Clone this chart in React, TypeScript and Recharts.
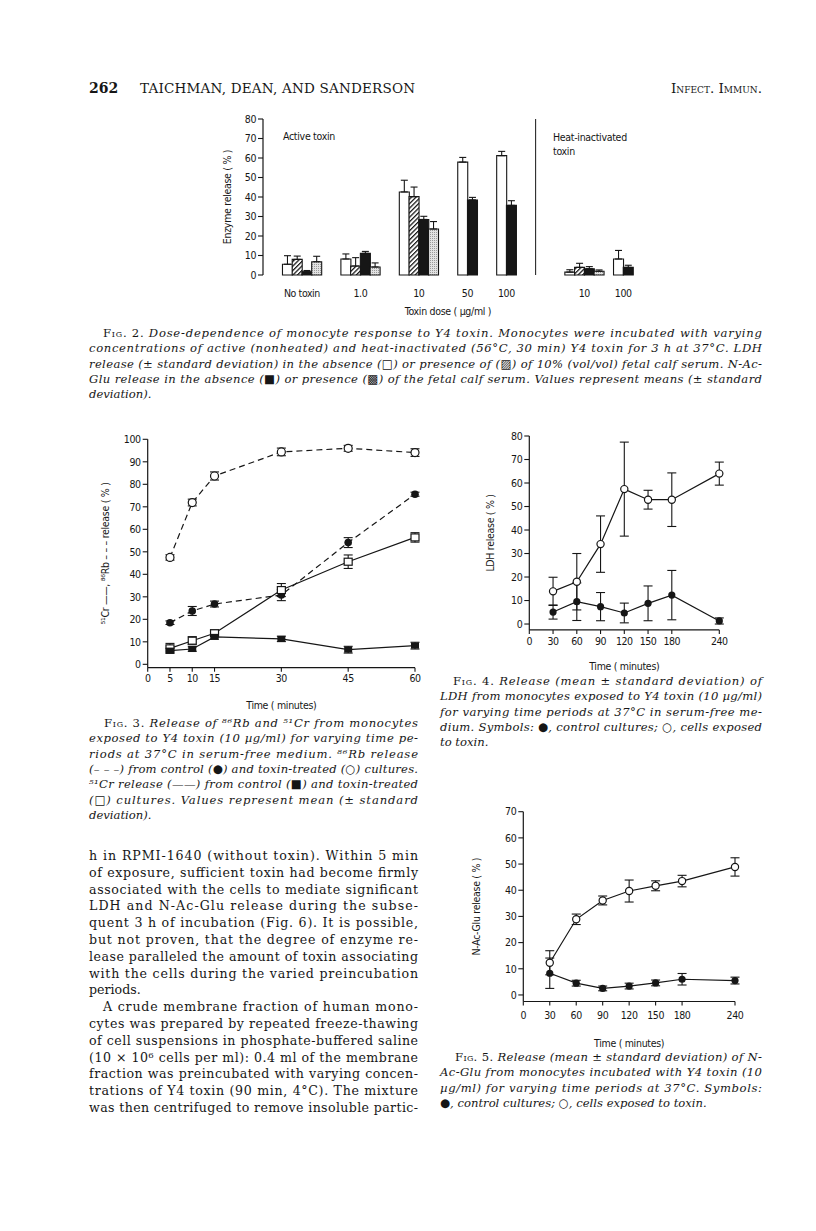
import React from 'react';
import { BarChart, Bar, Cell, ErrorBar, XAxis, YAxis, ReferenceLine, LineChart, Line } from 'recharts';

// ---- Fig. 2: enzyme release vs toxin dose ----
const doseGroups = ['No toxin', '1.0', '10', '50', '100', '10', '100'];
const ldh = [5.5, 8.2, 42.6, 57.9, 61.2, 1.5, 8.2];
const ldhSd = [4.4, 2.6, 6.0, 2.4, 2.2, 1.2, 4.4];
const ldhSerum = [8.0, 4.6, 40.2, null, null, 3.9, null];
const ldhSerumSd = [1.7, 4.3, 4.9, null, null, 2.1, null];
const glu = [1.7, 11.1, 28.5, 38.5, 35.7, 3.2, 3.9];
const gluSd = [0.6, 1.0, 1.6, 1.3, 2.4, 1.1, 1.1];
const gluSerum = [6.8, 4.1, 23.6, null, null, 1.9, null];
const gluSerumSd = [2.8, 2.1, 3.8, null, null, 0.7, null];
const enzymeTicks = [0, 10, 20, 30, 40, 50, 60, 70, 80];

// ---- Fig. 3: 86Rb / 51Cr release ----
const minutes3 = [5, 10, 15, 30, 45, 60];
const rbControl = [18.5, 23.7, 26.8, 30.8, 54.1, 75.6];
const rbControlSd = [0.8, 2.0, 1.3, 2.5, 2.2, 0.9];
const rbToxin = [47.5, 71.9, 83.7, 94.4, 96.0, 94.1];
const rbToxinSd = [1.2, 1.5, 1.8, 1.7, 1.3, 1.7];
const crControl = [6.1, 6.8, 12.2, 11.3, 6.5, 8.3];
const crControlSd = [1.0, 1.0, 1.0, 1.2, 1.5, 1.5];
const crToxin = [7.1, 10.5, 13.8, 33.0, 45.6, 56.4];
const crToxinSd = [2.2, 1.8, 1.5, 2.9, 3.0, 2.1];
const fig3TimeTicks = [0, 5, 10, 15, 30, 45, 60];
const fig3ReleaseTicks = [0, 10, 20, 30, 40, 50, 60, 70, 80, 90, 100];

// ---- Fig. 4 / Fig. 5: LDH and N-Ac-Glu release ----
const minutes45 = [30, 60, 90, 120, 150, 180, 240];
const ldhToxin = [13.9, 18.0, 34.0, 57.4, 52.9, 52.9, 64.0];
const ldhToxinSd = [6.0, 12.0, 12.0, 20.0, 4.0, 11.4, 4.9];
const ldhControl = [5.1, 9.5, 7.4, 4.7, 8.8, 12.3, 1.3];
const ldhControlSd = [3.0, 8.0, 6.0, 4.2, 7.4, 10.5, 1.3];
const gluToxin = [12.3, 28.9, 36.1, 39.7, 41.7, 43.5, 48.9];
const gluToxinSd = [4.6, 2.0, 1.7, 4.2, 1.9, 2.2, 3.5];
const gluControl = [8.3, 4.5, 2.5, 3.4, 4.6, 6.0, 5.5];
const gluControlSd = [5.8, 1.1, 0.9, 1.1, 1.1, 2.2, 1.3];
const timeTicks45 = [0, 30, 60, 90, 120, 150, 180, 240];
const ldhTicks = [0, 10, 20, 30, 40, 50, 60, 70, 80];
const gluTicks = [0, 10, 20, 30, 40, 50, 60, 70];

const INK = '#161616';
const CHART_FONT = "'Liberation Sans Narrow', 'DejaVu Sans Condensed', 'Roboto Condensed', 'Arial Narrow', 'Liberation Sans', sans-serif";
const SERIF = "'DejaVu Serif', 'Liberation Serif', serif";

const axisLine = { stroke: INK, strokeWidth: 1.2 };
const tickLine = { stroke: INK, strokeWidth: 1.1 };
const tickStyle = { fontSize: 10.5, fill: INK, fontFamily: CHART_FONT, letterSpacing: -0.4 };
const titleStyle = { fill: INK, fontSize: 10.5, fontFamily: CHART_FONT, letterSpacing: -0.3 };

// build one slot per bar (plus empty slots) so groups keep the paper's spacing
const gapBefore = [2, 2, 2, 2, 2, 5, 1];
const barSeries = [
  { vals: ldh, sd: ldhSd, fill: '#fff' },
  { vals: ldhSerum, sd: ldhSerumSd, fill: 'url(#hatch)' },
  { vals: glu, sd: gluSd, fill: INK },
  { vals: gluSerum, sd: gluSerumSd, fill: 'url(#stipple)' },
];
type Slot = { key: string; value: number | null; err?: number[]; fill?: string; label?: string };
const slots: Slot[] = [];
doseGroups.forEach((g, gi) => {
  for (let k = 0; k < gapBefore[gi]; k++) slots.push({ key: `gap${gi}-${k}`, value: null });
  const present = barSeries.filter((s) => s.vals[gi] != null);
  present.forEach((s, bi) => {
    slots.push({
      key: `g${gi}-${bi}`,
      value: s.vals[gi] as number,
      err: [0, s.sd[gi] as number],
      fill: s.fill,
      label: bi === present.length / 2 ? g : undefined,
    });
  });
});
const DIVIDER_KEY = 'gap5-2';
const PLOT2_W = 370;
const BW = PLOT2_W / slots.length;

const fig3Rows = minutes3.map((t, i) => ({
  t,
  rbC: rbControl[i], rbCsd: rbControlSd[i],
  rbT: rbToxin[i], rbTsd: rbToxinSd[i],
  crC: crControl[i], crCsd: crControlSd[i],
  crT: crToxin[i], crTsd: crToxinSd[i],
}));
const fig4Rows = minutes45.map((t, i) => ({ t, c: ldhControl[i], csd: ldhControlSd[i], x: ldhToxin[i], xsd: ldhToxinSd[i] }));
const fig5Rows = minutes45.map((t, i) => ({ t, c: gluControl[i], csd: gluControlSd[i], x: gluToxin[i], xsd: gluToxinSd[i] }));

function DoseTick(p: any) {
  const s = slots[p.index];
  if (!s || !s.label) return <g />;
  return (
    <text x={p.x - BW / 2} y={p.y + 22} textAnchor="middle" fontSize={10.5} fontFamily={CHART_FONT} letterSpacing={-0.4} fill={INK}>
      {s.label}
    </text>
  );
}

type Kind = 'disc' | 'ring' | 'block' | 'box';
function Marker({ cx, cy, kind, r = 3.6 }: { cx?: number; cy?: number; kind: Kind; r?: number }) {
  if (cx == null || cy == null) return <g />;
  if (kind === 'disc') return <circle cx={cx} cy={cy} r={r} fill={INK} />;
  if (kind === 'ring') return <circle cx={cx} cy={cy} r={r} fill="#fff" stroke={INK} strokeWidth={1.2} />;
  if (kind === 'block') return <rect x={cx - 4} y={cy - 3} width={8} height={6} fill={INK} />;
  return <rect x={cx - 4} y={cy - 3.5} width={8} height={7} fill="#fff" stroke={INK} strokeWidth={1.2} />;
}
const dotOf = (kind: Kind, r?: number) => (p: any) => <Marker key={`${kind}-${p.index}`} cx={p.cx} cy={p.cy} kind={kind} r={r} />;

function Fig2() {
  return (
    <div style={{ position: 'absolute', left: 200, top: 100 }}>
      <BarChart width={460} height={230} data={slots} margin={{ top: 19, right: 27, bottom: 15, left: 33 }} barCategoryGap={0} barGap={0}>
        <defs>
          <pattern id="hatch" width="3.2" height="3.2" patternUnits="userSpaceOnUse" patternTransform="rotate(45)">
            <rect width="3.2" height="3.2" fill="#fff" />
            <line x1="0.6" y1="0" x2="0.6" y2="3.2" stroke={INK} strokeWidth="1.3" />
          </pattern>
          <pattern id="stipple" width="2" height="2" patternUnits="userSpaceOnUse">
            <rect width="2" height="2" fill="#e2e2e2" />
            <rect width="1" height="1" fill="#9a9a9a" />
          </pattern>
        </defs>
        <XAxis
          dataKey="key"
          interval={0}
          axisLine={false}
          tickLine={false}
          tickSize={0}
          tickMargin={0}
          height={40}
          tick={(p: any) => <DoseTick {...p} />}
          label={{ value: 'Toxin dose ( µg/ml )', position: 'insideBottom', offset: 0, ...titleStyle }}
        />
        <YAxis
          type="number"
          width={30}
          domain={[0, 80]}
          ticks={enzymeTicks}
          axisLine={axisLine}
          tickLine={tickLine}
          tickSize={5}
          tickMargin={2}
          tick={tickStyle}
          label={{ value: 'Enzyme release ( % )', angle: -90, position: 'insideLeft', offset: -6, style: { textAnchor: 'middle' }, ...titleStyle }}
        />
        <ReferenceLine x={DIVIDER_KEY} position="start" stroke={INK} strokeWidth={1} />
        <Bar dataKey="value" isAnimationActive={false} stroke={INK} strokeWidth={1.1}>
          {slots.map((s) => (
            <Cell key={s.key} fill={s.fill ?? 'none'} />
          ))}
          <ErrorBar dataKey="err" width={3.5} stroke={INK} strokeWidth={1.1} direction="y" />
        </Bar>
      </BarChart>
    </div>
  );
}

function Fig3() {
  return (
    <div style={{ position: 'absolute', left: 90, top: 425 }}>
      <LineChart width={340} height={290} data={fig3Rows} margin={{ top: 14.3, right: 15, bottom: 6.3, left: 17.7 }}>
        <XAxis
          type="number"
          dataKey="t"
          domain={[0, 60]}
          ticks={fig3TimeTicks}
          interval={0}
          height={41}
          tickSize={4}
          tickMargin={3}
          axisLine={axisLine}
          tickLine={tickLine}
          tick={tickStyle}
          label={{ value: 'Time ( minutes)', position: 'insideBottom', offset: 0, ...titleStyle }}
        />
        <YAxis
          type="number"
          domain={[-1.5, 100]}
          ticks={fig3ReleaseTicks}
          interval={0}
          width={40}
          tickSize={5}
          tickMargin={2}
          axisLine={axisLine}
          tickLine={tickLine}
          tick={tickStyle}
          label={{ value: '⁵¹Cr ——, ⁸⁶Rb – – – release ( % )', angle: -90, position: 'insideLeft', offset: -2.7, style: { textAnchor: 'middle' }, ...titleStyle }}
        />
        <Line type="linear" dataKey="rbT" stroke={INK} strokeWidth={1.2} strokeDasharray="6 4" dot={dotOf('ring', 4)} activeDot={false} isAnimationActive={false}>
          <ErrorBar dataKey="rbTsd" width={4.5} stroke={INK} strokeWidth={1.1} direction="y" />
        </Line>
        <Line type="linear" dataKey="rbC" stroke={INK} strokeWidth={1.2} strokeDasharray="6 4" dot={dotOf('disc', 3.8)} activeDot={false} isAnimationActive={false}>
          <ErrorBar dataKey="rbCsd" width={4.5} stroke={INK} strokeWidth={1.1} direction="y" />
        </Line>
        <Line type="linear" dataKey="crT" stroke={INK} strokeWidth={1.2} dot={dotOf('box')} activeDot={false} isAnimationActive={false}>
          <ErrorBar dataKey="crTsd" width={4.5} stroke={INK} strokeWidth={1.1} direction="y" />
        </Line>
        <Line type="linear" dataKey="crC" stroke={INK} strokeWidth={1.2} dot={dotOf('block')} activeDot={false} isAnimationActive={false}>
          <ErrorBar dataKey="crCsd" width={4.5} stroke={INK} strokeWidth={1.1} direction="y" />
        </Line>
      </LineChart>
    </div>
  );
}

function TimeCourse(props: {
  left: number; top: number; rows: any[]; margin: any; yMax: number; yTicks: number[];
  xHeight: number; xTickMargin: number; yLabel: string; yLabelOffset: number;
}) {
  return (
    <div style={{ position: 'absolute', left: props.left, top: props.top }}>
      <LineChart width={330} height={270} data={props.rows} margin={props.margin}>
        <XAxis
          type="number"
          dataKey="t"
          domain={[0, 240]}
          ticks={timeTicks45}
          interval={0}
          height={props.xHeight}
          tickSize={4}
          tickMargin={props.xTickMargin}
          axisLine={axisLine}
          tickLine={tickLine}
          tick={tickStyle}
          label={{ value: 'Time ( minutes)', position: 'insideBottom', offset: 0, ...titleStyle }}
        />
        <YAxis
          type="number"
          domain={[-2.5, props.yMax]}
          ticks={props.yTicks}
          interval={0}
          width={40}
          tickSize={5}
          tickMargin={2}
          axisLine={axisLine}
          tickLine={tickLine}
          tick={tickStyle}
          label={{ value: props.yLabel, angle: -90, position: 'insideLeft', offset: props.yLabelOffset, style: { textAnchor: 'middle' }, ...titleStyle }}
        />
        <Line type="linear" dataKey="x" stroke={INK} strokeWidth={1.2} dot={dotOf('ring', 3.6)} activeDot={false} isAnimationActive={false}>
          <ErrorBar dataKey="xsd" width={4.5} stroke={INK} strokeWidth={1.1} direction="y" />
        </Line>
        <Line type="linear" dataKey="c" stroke={INK} strokeWidth={1.2} dot={dotOf('disc', 3.6)} activeDot={false} isAnimationActive={false}>
          <ErrorBar dataKey="csd" width={4.5} stroke={INK} strokeWidth={1.1} direction="y" />
        </Line>
      </LineChart>
    </div>
  );
}

// ---- page text ----
const fig2Caption = [
  ' Dose-dependence of monocyte response to Y4 toxin. Monocytes were incubated with varying',
  'concentrations of active (nonheated) and heat-inactivated (56°C, 30 min) Y4 toxin for 3 h at 37°C. LDH',
  'release (± standard deviation) in the absence (□) or presence of (▨) of 10% (vol/vol) fetal calf serum. N-Ac-',
  'Glu release in the absence (■) or presence (▩) of the fetal calf serum. Values represent means (± standard',
  'deviation).',
];
const fig3Caption = [
  ' Release of ⁸⁶Rb and ⁵¹Cr from monocytes',
  'exposed to Y4 toxin (10 µg/ml) for varying time pe-',
  'riods at 37°C in serum-free medium. ⁸⁶Rb release',
  '(– – –) from control (●) and toxin-treated (○) cultures.',
  '⁵¹Cr release (——) from control (■) and toxin-treated',
  '(□) cultures. Values represent mean (± standard',
  'deviation).',
];
const fig4Caption = [
  ' Release (mean ± standard deviation) of',
  'LDH from monocytes exposed to Y4 toxin (10 µg/ml)',
  'for varying time periods at 37°C in serum-free me-',
  'dium. Symbols: ●, control cultures; ○, cells exposed',
  'to toxin.',
];
const fig5Caption = [
  ' Release (mean ± standard deviation) of N-',
  'Ac-Glu from monocytes incubated with Y4 toxin (10',
  'µg/ml) for varying time periods at 37°C. Symbols:',
  '●, control cultures; ○, cells exposed to toxin.',
];
const bodyText = [
  'h in RPMI-1640 (without toxin). Within 5 min',
  'of exposure, sufficient toxin had become firmly',
  'associated with the cells to mediate significant',
  'LDH and N-Ac-Glu release during the subse-',
  'quent 3 h of incubation (Fig. 6). It is possible,',
  'but not proven, that the degree of enzyme re-',
  'lease paralleled the amount of toxin associating',
  'with the cells during the varied preincubation',
  'periods.',
  'A crude membrane fraction of human mono-',
  'cytes was prepared by repeated freeze-thawing',
  'of cell suspensions in phosphate-buffered saline',
  '(10 × 10⁶ cells per ml): 0.4 ml of the membrane',
  'fraction was preincubated with varying concen-',
  'trations of Y4 toxin (90 min, 4°C). The mixture',
  'was then centrifuged to remove insoluble partic-',
];

function Caption({ label, lines, x0, x1, indent, y0, lh }: { label: string; lines: string[]; x0: number; x1: number; indent: number; y0: number; lh: number }) {
  return (
    <g fontFamily={SERIF} fontSize={11.6} fill={INK}>
      {lines.map((ln, i) => {
        const x = i === 0 ? x0 + indent : x0;
        const last = i === lines.length - 1;
        return (
          <text key={i} x={x} y={y0 + i * lh} fontStyle="italic" textLength={last ? undefined : x1 - x} lengthAdjust="spacing">
            {i === 0 && (
              <tspan fontStyle="normal" style={{ fontVariant: 'small-caps' }}>
                {label}
              </tspan>
            )}
            {ln}
          </text>
        );
      })}
    </g>
  );
}

function PageText() {
  return (
    <svg width={816} height={1231} style={{ position: 'absolute', left: 0, top: 0 }}>
      <g fontFamily={SERIF} fill={INK}>
        <text x={89} y={93} fontSize={14} fontWeight="bold">262</text>
        <text x={140} y={93} fontSize={13.5} textLength={275} lengthAdjust="spacing">TAICHMAN, DEAN, AND SANDERSON</text>
        <text x={762} y={93} fontSize={13.5} textAnchor="end" style={{ fontVariant: 'small-caps' }}>Infect. Immun.</text>
      </g>
      <g fontFamily={CHART_FONT} fontSize={10.5} fill={INK} letterSpacing={-0.3}>
        <text x={283} y={140}>Active toxin</text>
        <text x={553} y={141}>Heat-inactivated</text>
        <text x={553} y={155}>toxin</text>
      </g>
      <Caption label="Fig. 2." lines={fig2Caption} x0={89} x1={762} indent={14} y0={337} lh={15.3} />
      <Caption label="Fig. 3." lines={fig3Caption} x0={89} x1={418} indent={15} y0={727} lh={15.3} />
      <Caption label="Fig. 4." lines={fig4Caption} x0={440} x1={762} indent={13} y0={685} lh={15.3} />
      <Caption label="Fig. 5." lines={fig5Caption} x0={440} x1={762} indent={15} y0={1061} lh={15.3} />
      <g fontFamily={SERIF} fontSize={12.6} fill={INK}>
        {bodyText.map((ln, i) => {
          const indentLine = i === 9;
          const lastOfPara = i === 8;
          const x = indentLine ? 103 : 89;
          return (
            <text key={i} x={x} y={860 + i * 16.8} textLength={lastOfPara ? undefined : 418 - x} lengthAdjust="spacing">
              {ln}
            </text>
          );
        })}
      </g>
    </svg>
  );
}

export default function App() {
  return (
    <div style={{ position: 'absolute', left: 0, top: 0, width: 816, height: 1231, background: '#fff' }}>
      <PageText />
      <Fig2 />
      <Fig3 />
      <TimeCourse
        left={440}
        top={420}
        rows={fig4Rows}
        margin={{ top: 16, right: 50.7, bottom: 20.1, left: 49.3 }}
        yMax={80}
        yTicks={ldhTicks}
        xHeight={40}
        xTickMargin={4}
        yLabel="LDH release ( % )"
        yLabelOffset={0.7}
      />
      <TimeCourse
        left={440}
        top={790}
        rows={fig5Rows}
        margin={{ top: 21.7, right: 35, bottom: 13.3, left: 43.3 }}
        yMax={70}
        yTicks={gluTicks}
        xHeight={45.2}
        xTickMargin={6}
        yLabel="N-Ac-Glu release ( % )"
        yLabelOffset={-6.6}
      />
    </div>
  );
}
